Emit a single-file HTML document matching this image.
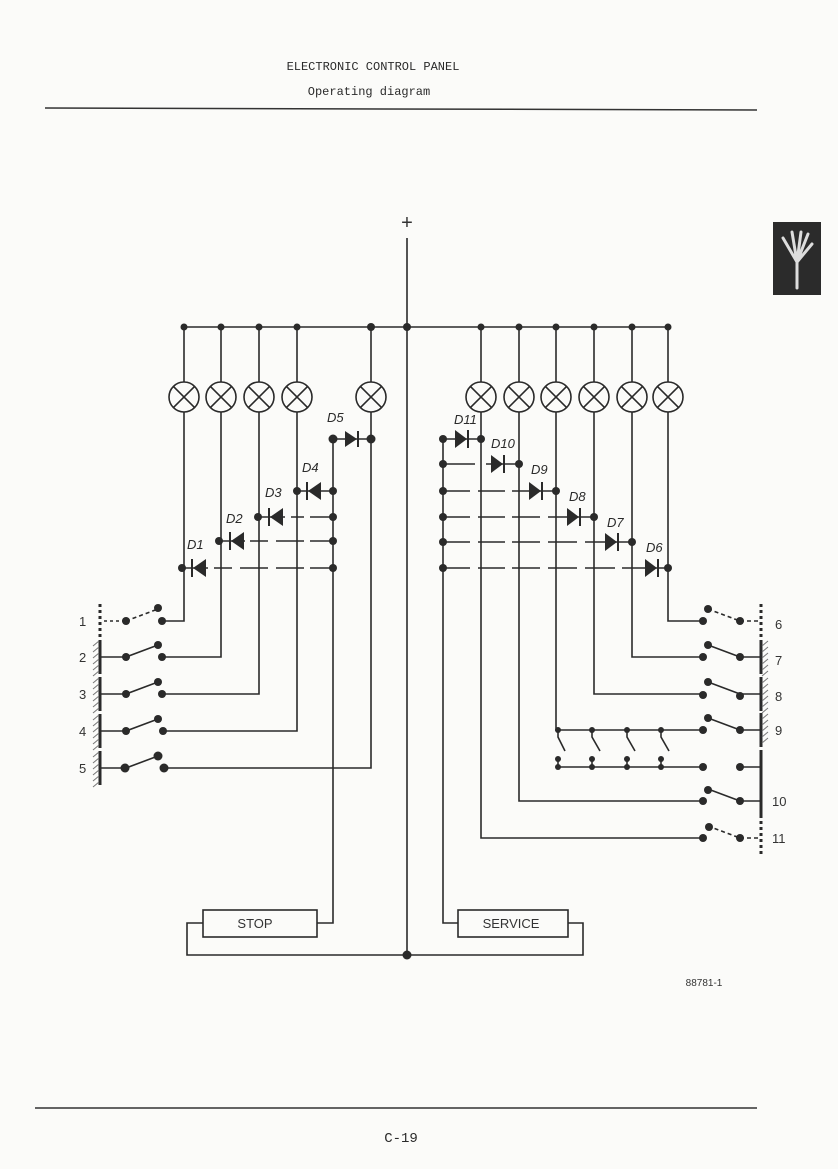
<!DOCTYPE html>
<html><head><meta charset="utf-8"><style>
html,body{margin:0;padding:0;background:#fbfbf9;}
svg{display:block}
</style></head><body>
<svg width="838" height="1169" viewBox="0 0 838 1169" xmlns="http://www.w3.org/2000/svg" font-family="Liberation Sans, sans-serif">
<rect width="838" height="1169" fill="#fbfbf9"/>
<g fill="#2a2a2a" font-family="Liberation Mono, monospace" font-size="12">
<text x="373" y="70" text-anchor="middle">ELECTRONIC CONTROL PANEL</text>
<text x="369" y="95" text-anchor="middle">Operating diagram</text>
<text x="401" y="1142" text-anchor="middle" font-size="14">C-19</text>
</g>
<line x1="45" y1="108" x2="757" y2="110" stroke="#333" stroke-width="1.5"/>
<line x1="35" y1="1108" x2="757" y2="1108" stroke="#333" stroke-width="1.5"/>
<text x="704" y="986" font-size="10" text-anchor="middle" fill="#333">88781-1</text>
<!-- tab -->
<rect x="773" y="222" width="48" height="73" fill="#2b2b2b"/>
<g stroke="#ddd" stroke-width="3" fill="none" stroke-linecap="round">
<path d="M797 288 L797 262 M797 262 L783 238 M797 262 L792 232 M797 262 L801 232 M797 262 L808 234 M797 262 L812 244"/>
</g>
<g stroke="#2a2a2a" stroke-width="1.6" fill="none">
<!-- plus & center -->
<line x1="407" y1="238" x2="407" y2="955"/>
<line x1="184" y1="327" x2="668" y2="327"/>
<!-- left columns -->
<path d="M184 327V382 M184 412V621H162"/>
<path d="M221 327V382 M221 412V657H162"/>
<path d="M259 327V382 M259 412V694H162"/>
<path d="M297 327V382 M297 412V731H162"/>
<path d="M371 327V382 M371 412V768H162"/>
<!-- right columns -->
<path d="M481 327V382 M481 412V838H703"/>
<path d="M519 327V382 M519 412V801H703"/>
<path d="M556 327V382 M556 412V730H703"/>
<path d="M594 327V382 M594 412V694H703"/>
<path d="M632 327V382 M632 412V657H703"/>
<path d="M668 327V382 M668 412V621H703"/>
<line x1="558" y1="767" x2="703" y2="767"/>
<!-- lamps -->
<g>
<circle cx="184" cy="397" r="15"/><circle cx="221" cy="397" r="15"/><circle cx="259" cy="397" r="15"/><circle cx="297" cy="397" r="15"/><circle cx="371" cy="397" r="15"/>
<circle cx="481" cy="397" r="15"/><circle cx="519" cy="397" r="15"/><circle cx="556" cy="397" r="15"/><circle cx="594" cy="397" r="15"/><circle cx="632" cy="397" r="15"/><circle cx="668" cy="397" r="15"/>
<path d="M173.4 386.4l21.2 21.2M194.6 386.4l-21.2 21.2 M210.4 386.4l21.2 21.2M231.6 386.4l-21.2 21.2 M248.4 386.4l21.2 21.2M269.6 386.4l-21.2 21.2 M286.4 386.4l21.2 21.2M307.6 386.4l-21.2 21.2 M360.4 386.4l21.2 21.2M381.6 386.4l-21.2 21.2"/>
<path d="M470.4 386.4l21.2 21.2M491.6 386.4l-21.2 21.2 M508.4 386.4l21.2 21.2M529.6 386.4l-21.2 21.2 M545.4 386.4l21.2 21.2M566.6 386.4l-21.2 21.2 M583.4 386.4l21.2 21.2M604.6 386.4l-21.2 21.2 M621.4 386.4l21.2 21.2M642.6 386.4l-21.2 21.2 M657.4 386.4l21.2 21.2M678.6 386.4l-21.2 21.2"/>
</g>
<!-- left diode bus -->
<path d="M333 439V923H317"/>
<line x1="333" y1="439" x2="371" y2="439"/>
<line x1="297" y1="491" x2="333" y2="491"/>
<path d="M258 517H285 M291 517H304 M310 517H333" />
<path d="M219 541H245 M250 541H268 M276 541H304 M310 541H333"/>
<path d="M182 568H208 M214 568H232 M240 568H268 M276 568H304 M310 568H333"/>
<!-- right diode bus -->
<path d="M443 439V923H458"/>
<line x1="443" y1="439" x2="481" y2="439"/>
<path d="M443 464H475 M486 464H519"/>
<path d="M443 491H470 M478 491H505 M512 491H556"/>
<path d="M443 517H470 M478 517H505 M512 517H540 M548 517H594"/>
<path d="M443 542H470 M478 542H505 M512 542H540 M548 542H577 M585 542H632"/>
<path d="M443 568H470 M478 568H505 M512 568H540 M548 568H577 M585 568H615 M622 568H668"/>
<!-- boxes -->
<rect x="203" y="910" width="114" height="27"/>
<rect x="458" y="910" width="110" height="27"/>
<path d="M203 923H187V955H583V923H568"/>
<!-- parallel switches -->
<path d="M558 730v7l7 14 M592 730v7l8 14 M627 730v7l8 14 M661 730v7l8 14"/>
<path d="M558 767v-8 M592 767v-8 M627 767v-8 M661 767v-8"/>
<!-- left switches -->
<path d="M100 657H126L158 645 M100 694H126L158 682 M100 731H126L158 719 M100 768H126L158 756"/>
<path d="M126 621L158 609" stroke-dasharray="4 3"/>
<path d="M104 621H126" stroke-dasharray="3 3"/>
<!-- right switches -->
<path d="M740 657H760 M708 645L740 657 M740 694H760 M708 682L740 694 M740 730H760 M708 718L740 730 M740 767H760 M740 801H760 M708 789L740 801"/>
<path d="M708 609L740 621 M740 621H758 M708 826L740 838 M740 838H758" stroke-dasharray="4 3"/>
</g>
<!-- walls -->
<g stroke="#2a2a2a" stroke-width="3">
<line x1="100" y1="640" x2="100" y2="674"/><line x1="100" y1="677" x2="100" y2="711"/><line x1="100" y1="714" x2="100" y2="748"/><line x1="100" y1="751" x2="100" y2="785"/>
<line x1="761" y1="640" x2="761" y2="674"/><line x1="761" y1="677" x2="761" y2="711"/><line x1="761" y1="713" x2="761" y2="747"/><line x1="761" y1="750" x2="761" y2="784"/><line x1="761" y1="784" x2="761" y2="818"/>
</g>
<g stroke="#2a2a2a" stroke-width="3" stroke-dasharray="3 3">
<line x1="100" y1="604" x2="100" y2="638"/><line x1="761" y1="604" x2="761" y2="638"/><line x1="761" y1="821" x2="761" y2="855"/>
</g>
<g stroke="#777" stroke-width="1">
<path d="M93 646l6-5M93 652l6-5M93 658l6-5M93 664l6-5M93 670l6-5M93 676l6-5 M93 683l6-5M93 689l6-5M93 695l6-5M93 701l6-5M93 707l6-5M93 713l6-5 M93 720l6-5M93 726l6-5M93 732l6-5M93 738l6-5M93 744l6-5M93 750l6-5 M93 757l6-5M93 763l6-5M93 769l6-5M93 775l6-5M93 781l6-5M93 787l6-5"/>
<path d="M762 646l6-5M762 652l6-5M762 658l6-5M762 664l6-5M762 670l6-5M762 676l6-5 M762 683l6-5M762 689l6-5M762 695l6-5M762 701l6-5M762 707l6-5M762 713l6-5 M762 719l6-5M762 725l6-5M762 731l6-5M762 737l6-5M762 743l6-5"/>
</g>
<!-- dots -->
<g fill="#2a2a2a">
<circle cx="184" cy="327" r="3.5"/><circle cx="221" cy="327" r="3.5"/><circle cx="259" cy="327" r="3.5"/><circle cx="297" cy="327" r="3.5"/><circle cx="371" cy="327" r="4"/><circle cx="407" cy="327" r="4"/>
<circle cx="481" cy="327" r="3.5"/><circle cx="519" cy="327" r="3.5"/><circle cx="556" cy="327" r="3.5"/><circle cx="594" cy="327" r="3.5"/><circle cx="632" cy="327" r="3.5"/><circle cx="668" cy="327" r="3.5"/>
<circle cx="407" cy="955" r="4.5"/>
<circle cx="333" cy="439" r="4.5"/><circle cx="371" cy="439" r="4.5"/><circle cx="297" cy="491" r="4"/><circle cx="333" cy="491" r="4"/>
<circle cx="258" cy="517" r="4"/><circle cx="333" cy="517" r="4"/><circle cx="219" cy="541" r="4"/><circle cx="333" cy="541" r="4"/><circle cx="182" cy="568" r="4"/><circle cx="333" cy="568" r="4"/>
<circle cx="443" cy="439" r="4"/><circle cx="481" cy="439" r="4"/><circle cx="443" cy="464" r="4"/><circle cx="519" cy="464" r="4"/><circle cx="443" cy="491" r="4"/><circle cx="556" cy="491" r="4"/>
<circle cx="443" cy="517" r="4"/><circle cx="594" cy="517" r="4"/><circle cx="443" cy="542" r="4"/><circle cx="632" cy="542" r="4"/><circle cx="443" cy="568" r="4"/><circle cx="668" cy="568" r="4"/>
<!-- diodes left: D5 right-pointing, others left-pointing -->
<path d="M345 431L357 439L345 447Z"/><rect x="357" y="431" width="2" height="16"/>
<path d="M321 482L308 491L321 500Z"/><rect x="306" y="482" width="2" height="18"/>
<path d="M283 508L270 517L283 526Z"/><rect x="268" y="508" width="2" height="18"/>
<path d="M244 532L231 541L244 550Z"/><rect x="229" y="532" width="2" height="18"/>
<path d="M206 559L193 568L206 577Z"/><rect x="191" y="559" width="2" height="18"/>
<!-- diodes right pointing right -->
<path d="M455 430L467 439L455 448Z"/><rect x="467" y="430" width="2" height="18"/>
<path d="M491 455L503 464L491 473Z"/><rect x="503" y="455" width="2" height="18"/>
<path d="M529 482L541 491L529 500Z"/><rect x="541" y="482" width="2" height="18"/>
<path d="M567 508L579 517L567 526Z"/><rect x="579" y="508" width="2" height="18"/>
<path d="M605 533L617 542L605 551Z"/><rect x="617" y="533" width="2" height="18"/>
<path d="M645 559L657 568L645 577Z"/><rect x="657" y="559" width="2" height="18"/>
<!-- switch dots left -->
<circle cx="126" cy="621" r="4"/><circle cx="158" cy="608" r="4"/><circle cx="162" cy="621" r="4"/>
<circle cx="126" cy="657" r="4"/><circle cx="158" cy="645" r="4"/><circle cx="162" cy="657" r="4"/>
<circle cx="126" cy="694" r="4"/><circle cx="158" cy="682" r="4"/><circle cx="162" cy="694" r="4"/>
<circle cx="126" cy="731" r="4"/><circle cx="158" cy="719" r="4"/><circle cx="163" cy="731" r="4"/>
<circle cx="125" cy="768" r="4.5"/><circle cx="158" cy="756" r="4.5"/><circle cx="164" cy="768" r="4.5"/>
<!-- switch dots right -->
<circle cx="708" cy="609" r="4"/><circle cx="703" cy="621" r="4"/><circle cx="740" cy="621" r="4"/>
<circle cx="708" cy="645" r="4"/><circle cx="703" cy="657" r="4"/><circle cx="740" cy="657" r="4"/>
<circle cx="708" cy="682" r="4"/><circle cx="703" cy="695" r="4"/><circle cx="740" cy="696" r="4"/>
<circle cx="708" cy="718" r="4"/><circle cx="703" cy="730" r="4"/><circle cx="740" cy="730" r="4"/>
<circle cx="703" cy="767" r="4"/><circle cx="740" cy="767" r="4"/>
<circle cx="708" cy="790" r="4"/><circle cx="703" cy="801" r="4"/><circle cx="740" cy="801" r="4"/>
<circle cx="709" cy="827" r="4"/><circle cx="703" cy="838" r="4"/><circle cx="740" cy="838" r="4"/>
<circle cx="558" cy="730" r="3"/><circle cx="592" cy="730" r="3"/><circle cx="627" cy="730" r="3"/><circle cx="661" cy="730" r="3"/>
<circle cx="558" cy="759" r="3"/><circle cx="592" cy="759" r="3"/><circle cx="627" cy="759" r="3"/><circle cx="661" cy="759" r="3"/>
<circle cx="558" cy="767" r="3"/><circle cx="592" cy="767" r="3"/><circle cx="627" cy="767" r="3"/><circle cx="661" cy="767" r="3"/>
</g>
<!-- labels -->
<g fill="#2a2a2a" font-size="13" font-style="italic">
<text x="327" y="422">D5</text><text x="302" y="472">D4</text><text x="265" y="497">D3</text><text x="226" y="523">D2</text><text x="187" y="549">D1</text>
<text x="454" y="424">D11</text><text x="491" y="448">D10</text><text x="531" y="474">D9</text><text x="569" y="501">D8</text><text x="607" y="527">D7</text><text x="646" y="552">D6</text>
</g>
<g fill="#333" font-size="13">
<text x="79" y="626">1</text><text x="79" y="662">2</text><text x="79" y="699">3</text><text x="79" y="736">4</text><text x="79" y="773">5</text>
<text x="775" y="629">6</text><text x="775" y="665">7</text><text x="775" y="701">8</text><text x="775" y="735">9</text><text x="772" y="806">10</text><text x="772" y="843">11</text>
<text x="407" y="229" text-anchor="middle" font-size="20">+</text>
</g>
<g fill="#333" font-size="13">
<text x="255" y="928" text-anchor="middle">STOP</text>
<text x="511" y="928" text-anchor="middle">SERVICE</text>
</g>
</svg>
</body></html>
